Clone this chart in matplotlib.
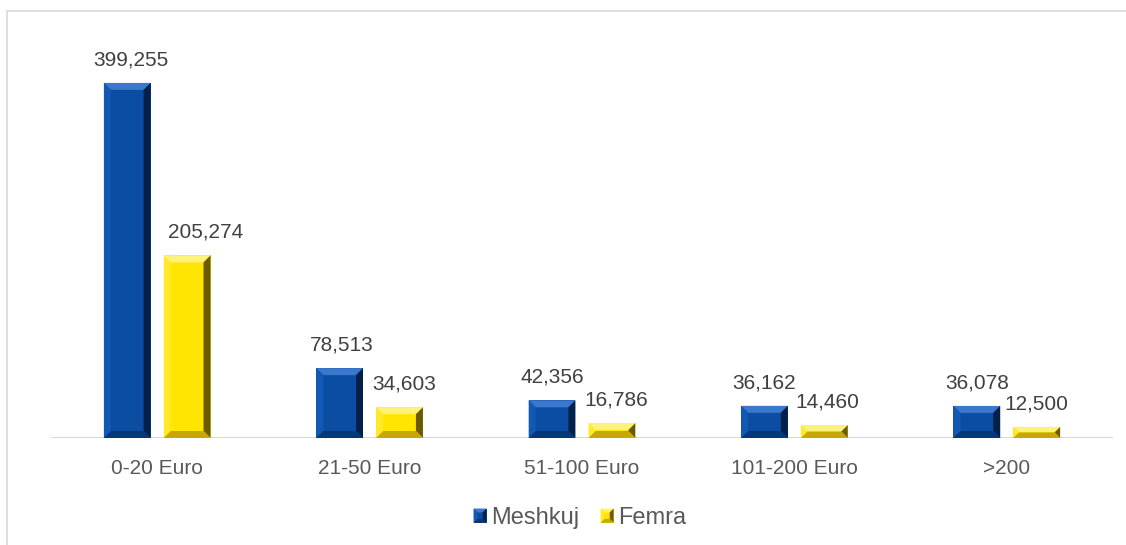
import matplotlib
matplotlib.use("Agg")
import matplotlib.pyplot as plt
from matplotlib.patches import Polygon, Rectangle, Patch
from matplotlib.transforms import IdentityTransform
from matplotlib.legend_handler import HandlerBase
import numpy as np

categories = ["0-20 Euro", "21-50 Euro", "51-100 Euro", "101-200 Euro", ">200"]
meshkuj = [399255, 78513, 42356, 36162, 36078]
femra = [205274, 34603, 16786, 14460, 12500]
series_names = ["Meshkuj", "Femra"]

plt.rcParams['font.family'] = ['Liberation Sans', 'DejaVu Sans']

W, H = 1126, 545
fig = plt.figure(figsize=(W / 100, H / 100), dpi=100)
fig.patch.set_facecolor('white')

# outer chart frame
fig.patches.append(Rectangle((7 / W, -0.1), 1.2, (H - 11) / H + 0.1, transform=fig.transFigure,
                             fill=False, edgecolor='#D9D9D9', linewidth=1.2, zorder=0))

ax = fig.add_axes([51 / W, 107 / H, (1113 - 51) / W, 418 / H])
x = np.arange(len(categories))
bw = 0.22
off = 0.141

blue = dict(face='#0B4DA2', top='#3A78CC', left='#1259B4', right='#03204A', bottom='#07377A')
yellow = dict(face='#FFE500', top='#FFF27A', left='#FFEA2A', right='#6A5A00', bottom='#C4AA00')

b1 = ax.bar(x - off, meshkuj, bw, color=blue['face'], zorder=2)
b2 = ax.bar(x + off, femra, bw, color=yellow['face'], zorder=2)

ax.set_xlim(-0.5, len(categories) - 0.5)
ax.set_ylim(0, 470000)
for s in ax.spines.values():
    s.set_visible(False)
ax.axhline(0, color='#D9D9D9', linewidth=1.5, zorder=1)
ax.set_yticks([])
ax.set_xticks(x)
ax.set_xticklabels(categories, fontsize=15, color='#595959')
ax.tick_params(axis='x', length=0, pad=15)

fig.canvas.draw()


def bevel_polys(x0, y0, x1, y1, cols, b):
    bb = min(b, (y1 - y0) / 2, (x1 - x0) / 2)
    return [
        ([(x0, y1), (x1, y1), (x1 - bb, y1 - bb), (x0 + bb, y1 - bb)], cols['top']),
        ([(x0, y0), (x0, y1), (x0 + bb, y1 - bb), (x0 + bb, y0 + bb)], cols['left']),
        ([(x1, y0), (x1, y1), (x1 - bb, y1 - bb), (x1 - bb, y0 + bb)], cols['right']),
        ([(x0, y0), (x1, y0), (x1 - bb, y0 + bb), (x0 + bb, y0 + bb)], cols['bottom']),
    ]


def bevel(rect, cols, b=7):
    (x0, y0) = ax.transData.transform((rect.get_x(), rect.get_y()))
    (x1, y1) = ax.transData.transform((rect.get_x() + rect.get_width(), rect.get_y() + rect.get_height()))
    for pts, c in bevel_polys(x0, y0, x1, y1, cols, b):
        fig.patches.append(Polygon(pts, closed=True, facecolor=c, edgecolor='none',
                                   transform=IdentityTransform(), zorder=3))


for r in b1:
    bevel(r, blue)
for r in b2:
    bevel(r, yellow)

lbl_dx_m = [4, 2, 0, 0, 0]
lbl_dx_f = [18, 5, 4, 3, 0]
for i, (r, v) in enumerate(zip(b1, meshkuj)):
    ax.annotate(f"{v:,}", (r.get_x() + r.get_width() / 2, v), xytext=(lbl_dx_m[i], 23),
                textcoords='offset pixels', ha='center', va='center', fontsize=15, color='#404040')
for i, (r, v) in enumerate(zip(b2, femra)):
    ax.annotate(f"{v:,}", (r.get_x() + r.get_width() / 2, v), xytext=(lbl_dx_f[i], 23),
                textcoords='offset pixels', ha='center', va='center', fontsize=15, color='#404040')


class BevelHandler(HandlerBase):
    def __init__(self, cols):
        super().__init__()
        self.cols = cols

    def create_artists(self, legend, orig_handle, xdescent, ydescent, width, height, fontsize, trans):
        x0, y0 = -xdescent, -ydescent
        x1, y1 = x0 + width, y0 + height
        arts = [Rectangle((x0, y0), width, height, facecolor=self.cols['face'], edgecolor='none', transform=trans)]
        for pts, c in bevel_polys(x0, y0, x1, y1, self.cols, width * 0.3):
            arts.append(Polygon(pts, closed=True, facecolor=c, edgecolor='none', transform=trans))
        return arts


h1 = Patch(facecolor=blue['face'])
h2 = Patch(facecolor=yellow['face'])
leg = fig.legend([h1, h2], series_names, loc='center', bbox_to_anchor=(580 / W, 1 - 518 / H),
                 ncol=2, frameon=False, fontsize=17, handlelength=0.55, handleheight=0.55,
                 handletextpad=0.2, columnspacing=0.9, labelcolor='#595959',
                 handler_map={h1: BevelHandler(blue), h2: BevelHandler(yellow)})

fig.savefig("out.png", dpi=100)
